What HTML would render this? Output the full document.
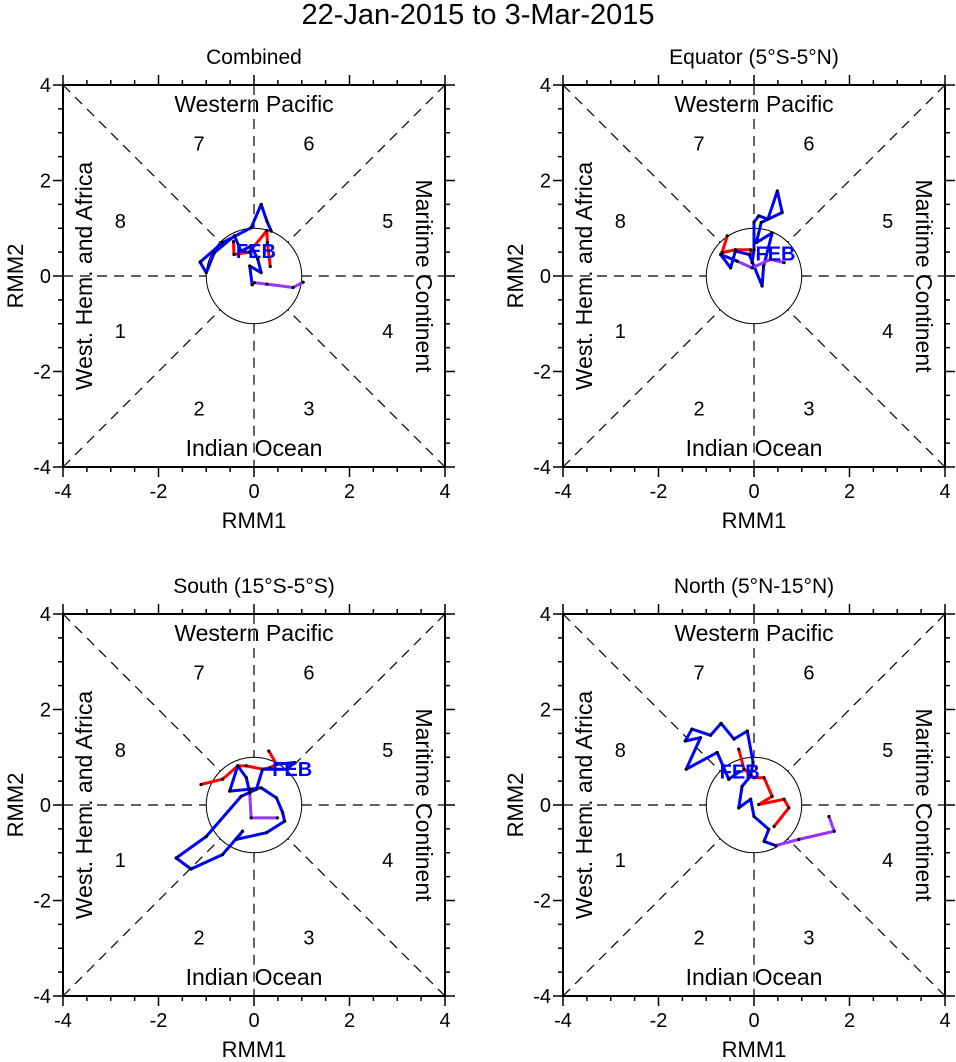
<!DOCTYPE html>
<html><head><meta charset="utf-8"><style>
body{margin:0;background:#fff;}
svg text{font-family:"Liberation Sans",sans-serif;}
</style></head><body>
<svg id="c" width="956" height="1057" xmlns="http://www.w3.org/2000/svg">
<text x="478" y="24" font-size="29" text-anchor="middle">22-Jan-2015 to 3-Mar-2015</text>
</svg>
<script>
const panelTitles=["Combined","Equator (5°S-5°N)","South (15°S-5°S)","North (5°N-15°N)"];
const tickVals=[-4,-2,0,2,4];
// trajectories: [rmm1, rmm2]
const janP1=[[-0.43,0.72],[-0.42,0.45],[-0.1,0.5],[0.27,0.95],[0.28,0.7],[0.34,0.2]];
const febP1=[[0.36,0.94],[0.27,1.15],[0.15,1.5],[-0.06,1.01],[-0.66,0.7],[-1.13,0.29],[-1.0,0.07],[-0.83,0.49],[-0.41,0.84],[-0.27,0.52],[-0.06,0.63],[0.08,0.35],[0.15,0.07],[-0.09,0.21],[-0.04,-0.18]];
const marP1=[[-0.04,-0.18],[0.01,-0.14],[0.27,-0.17],[0.82,-0.24],[1.03,-0.13]];
const janP2=[[-0.56,0.84],[-0.67,0.49],[-0.39,0.55],[-0.07,0.55],[-0.04,0.28]];
const febP2=[[-0.04,0.28],[0,0.55],[0,1.13],[0.1,1.26],[0.29,1.19],[0.49,1.78],[0.59,1.33],[0.15,1.12],[0.05,0.7],[0.38,0.9],[0.2,0.2],[0.17,-0.21],[-0.1,0.45],[-0.39,0.52],[-0.49,0.17],[-0.7,0.45],[-0.35,0.31]];
const marP2=[[-0.35,0.31],[-0.04,0.17],[0.35,0.35],[0.63,0.28]];
const janP3=[[-1.11,0.43],[-0.66,0.54],[-0.34,0.82],[-0.16,0.82],[0.18,0.75],[0.33,0.78],[0.47,0.85],[0.31,1.13]];
const febP3=[[0.47,0.85],[0.85,0.89],[0.68,0.75],[0.18,0.75],[0.05,0.33],[-0.27,0.18],[-1.0,-0.66],[-1.63,-1.11],[-1.32,-1.34],[-0.66,-1.04],[-0.24,-0.55],[-0.37,-0.72],[0.26,-0.58],[0.64,-0.34],[0.6,-0.16],[0.47,0.15],[0.15,0.36],[-0.09,0.33],[-0.51,0.29],[-0.34,0.82],[-0.16,0.57],[-0.09,0.25]];
const marP3=[[-0.09,0.25],[-0.06,-0.27],[0.49,-0.27]];
const janP4=[[-0.32,1.17],[-0.21,0.75],[0,0.57],[0.21,0.57],[0.38,0.18],[0.1,0.01],[0.63,0.12],[0.73,-0.06],[0.42,-0.45]];
const febP4=[[-0.3,0.7],[-0.53,0.54],[-0.77,1.1],[-1.42,0.75],[-1.12,1.41],[-1.44,1.34],[-1.3,1.59],[-0.91,1.46],[-0.69,1.71],[-0.42,1.38],[-0.14,1.55],[-0.02,0.89],[-0.07,0.61],[-0.25,0.39],[-0.32,-0.06],[-0.07,0.12],[0,-0.24],[0.31,-0.51],[0.21,-0.76],[0.45,-0.85]];
const marP4=[[0.45,-0.85],[0.94,-0.72],[1.68,-0.55],[1.57,-0.24]];
const janS=[janP1,janP2,janP3,janP4],febS=[febP1,febP2,febP3,febP4],marS=[marP1,marP2,marP3,marP4];
const febLabel=[[0.04,0.52],[0.45,0.47],[0.8,0.75],[-0.3,0.7]];

const NS="http://www.w3.org/2000/svg";
const svg=document.getElementById('c');
function mk(tag,attrs,parent){const e=document.createElementNS(NS,tag);for(const k in attrs)e.setAttribute(k,attrs[k]);(parent||svg).appendChild(e);return e;}
const origins=[[63,85],[563,85],[63,614],[563,614]];
const S=382,U=S/8;
origins.forEach((o,i)=>{
  const g=mk('g',{});
  
  
  const X=v=>o[0]+(v+4)*U, Y=v=>o[1]+(4-v)*U;
  const t=mk('text',{x:X(0),y:o[1]-21,'font-size':21,'text-anchor':'middle'},g);t.textContent=panelTitles[i];
  
  const d={stroke:'#000','stroke-width':1.2,'stroke-dasharray':'10,7',fill:'none'};
  const r=1/Math.SQRT2;
  [[-4,-4,-r,-r],[4,4,r,r],[-4,4,-r,r],[4,-4,r,-r],[-4,0,-1,0],[1,0,4,0],[0,4,0,1],[0,-1,0,-4]].forEach(l=>{
    const e=mk('line',Object.assign({x1:X(l[0]),y1:Y(l[1]),x2:X(l[2]),y2:Y(l[3])},d),g);
    
  });
  const c=mk('circle',{cx:X(0),cy:Y(0),r:U,fill:'none',stroke:'#000','stroke-width':1},g);
  
  const fr=mk('rect',{x:o[0],y:o[1],width:S,height:S,fill:'none',stroke:'#000','stroke-width':2},g);
  
  for(let v=-4;v<=4;v+=0.5){
    const L=(v%2===0)?10:5;
    mk('line',{x1:X(v),y1:o[1]+S,x2:X(v),y2:o[1]+S+L,stroke:'#000','stroke-width':1.5},g);
    mk('line',{x1:X(v),y1:o[1],x2:X(v),y2:o[1]-L,stroke:'#000','stroke-width':1.5},g);
    mk('line',{x1:o[0],y1:Y(v),x2:o[0]-L,y2:Y(v),stroke:'#000','stroke-width':1.5},g);
    mk('line',{x1:o[0]+S,y1:Y(v),x2:o[0]+S+L,y2:Y(v),stroke:'#000','stroke-width':1.5},g);
  }
  tickVals.forEach(v=>{
    const a=mk('text',{x:X(v),y:o[1]+S+31,'font-size':20,'text-anchor':'middle'},g);a.textContent=v;
    
    const b=mk('text',{x:o[0]-12,y:Y(v)+7,'font-size':20,'text-anchor':'end'},g);b.textContent=v;
    
  });
  const xl=mk('text',{x:X(0),y:o[1]+S+61,'font-size':22,'text-anchor':'middle'},g);xl.textContent='RMM1';
  
  const yl=mk('text',{x:0,y:0,'font-size':22,'text-anchor':'middle',transform:`translate(${o[0]-40},${Y(0)}) rotate(-90)`},g);yl.textContent='RMM2';
  
  const lab=(s,x,y,rot,name)=>{const e=mk('text',{x:0,y:0,'font-size':23,'text-anchor':'middle',transform:`translate(${x},${y}) rotate(${rot})`},g);e.textContent=s;};
  lab('Western Pacific',X(0),o[1]+27,0,'region-label-top');
  lab('Indian Ocean',X(0),o[1]+S-11,0,'region-label-bottom');
  lab('West. Hem. and Africa',o[0]+29,Y(0),-90,'region-label-left');
  lab('Maritime Continent',o[0]+S-29,Y(0),90,'region-label-right');
  [['7',-1.15,2.77],['6',1.15,2.77],['8',-2.8,1.15],['5',2.8,1.15],['1',-2.8,-1.15],['4',2.8,-1.15],['2',-1.15,-2.77],['3',1.15,-2.77]].forEach(p=>{
    const e=mk('text',{x:X(p[1]),y:Y(p[2])+7,'font-size':20,'text-anchor':'middle'},g);e.textContent=p[0];
    
  });
  const line=(pts,col,name)=>{
    const e=mk('polyline',{points:pts.map(p=>X(p[0])+','+Y(p[1])).join(' '),fill:'none',stroke:col,'stroke-width':3,'stroke-linejoin':'round'},g);
    
    pts.forEach(p=>{mk('circle',{cx:X(p[0]),cy:Y(p[1]),r:1.6,fill:'#000'},g);});
  };
  line(janS[i],'#ff0000','january-track');
  line(febS[i],'#0000ff','february-track');
  line(marS[i],'#9933ff','march-track');
  const f=mk('text',{x:X(febLabel[i][0]),y:Y(febLabel[i][1])+7,'font-size':20,'font-weight':'bold',fill:'#0000ff','text-anchor':'middle'},g);f.textContent='FEB';
  
});
</script>
</body></html>
